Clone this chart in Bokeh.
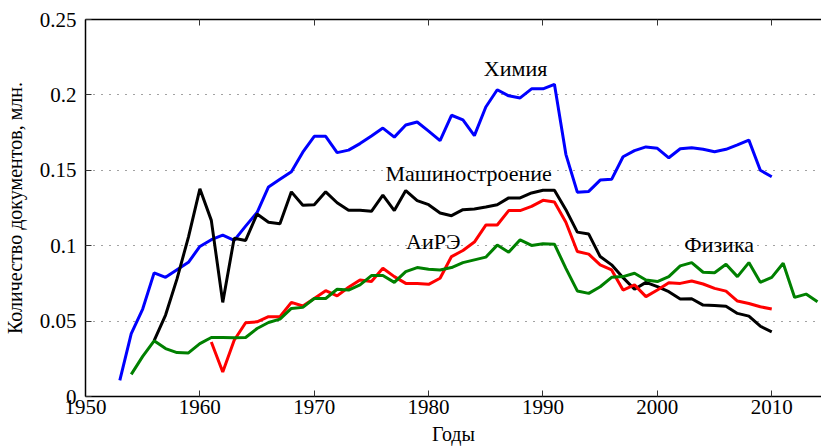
from bokeh.plotting import figure
from bokeh.models import LinearAxis, Label, FixedTicker, CustomJSTickFormatter, Range1d
from bokeh.embed import file_html
from bokeh.resources import INLINE

chem_years = list(range(1953, 2011))
chem = [0.0107, 0.0417, 0.058, 0.082, 0.079, 0.084, 0.089, 0.0995, 0.104, 0.107,
        0.1035, 0.113, 0.122, 0.139, 0.144, 0.149, 0.162, 0.1725, 0.1725, 0.1617,
        0.1634, 0.1677, 0.1728, 0.178, 0.172, 0.180, 0.182, 0.176, 0.1697, 0.1865,
        0.1834, 0.173, 0.192, 0.2034, 0.1994, 0.198, 0.204, 0.204, 0.207, 0.1606,
        0.1355, 0.136, 0.1435, 0.144, 0.159, 0.163, 0.1655, 0.1646, 0.1583, 0.1643,
        0.165, 0.1639, 0.1623, 0.1639, 0.1668, 0.170, 0.150, 0.1457]

mech_years = list(range(1956, 2011))
mech = [0.037, 0.054, 0.078, 0.1057, 0.1377, 0.1168, 0.0624, 0.105, 0.1035, 0.121,
        0.1155, 0.1146, 0.1357, 0.1268, 0.1272, 0.1357, 0.1285, 0.1235, 0.1235, 0.1228,
        0.1335, 0.1233, 0.1366, 0.1299, 0.1272, 0.1217, 0.1199, 0.1239, 0.1244, 0.1257,
        0.1272, 0.1317, 0.1317, 0.135, 0.1368, 0.1368, 0.1239, 0.109, 0.1077, 0.0928,
        0.0873, 0.0788, 0.0711, 0.0757, 0.0728, 0.0695, 0.0646, 0.0648, 0.0606, 0.0604,
        0.0599, 0.0551, 0.0533, 0.0466, 0.0429]

are_years = list(range(1961, 2011))
are = [0.0362, 0.0162, 0.0373, 0.0489, 0.0495, 0.0529, 0.0529, 0.0624, 0.060, 0.065,
       0.0702, 0.0667, 0.0724, 0.0773, 0.0762, 0.085, 0.0795, 0.075, 0.075, 0.0744,
       0.0784, 0.0928, 0.0968, 0.1024, 0.1137, 0.1137, 0.1233, 0.1233, 0.1261, 0.1301,
       0.129, 0.1155, 0.0962, 0.0944, 0.0873, 0.0839, 0.0706, 0.074, 0.0662, 0.0706,
       0.0755, 0.075, 0.0766, 0.0746, 0.0717, 0.0699, 0.0633, 0.0617, 0.0595, 0.058]

phys_years = list(range(1954, 2015))
phys = [0.0147, 0.0266, 0.0369, 0.0318, 0.0291, 0.0289, 0.0351, 0.0391, 0.0391, 0.0389,
        0.0391, 0.0451, 0.0491, 0.0513, 0.0584, 0.0591, 0.065, 0.065, 0.0711, 0.0706,
        0.074, 0.0802, 0.0802, 0.0757, 0.0828, 0.0855, 0.0844, 0.0839, 0.0855, 0.0888,
        0.0906, 0.0924, 0.1004, 0.0957, 0.1039, 0.1002, 0.1013, 0.101, 0.085, 0.07,
        0.0684, 0.0728, 0.079, 0.0795, 0.0817, 0.0773, 0.0762, 0.0795, 0.0866, 0.0888,
        0.0824, 0.0821, 0.0877, 0.0795, 0.0888, 0.0757, 0.079, 0.0884, 0.0657, 0.0679,
        0.0628]

x_ticks = [1950, 1960, 1970, 1980, 1990, 2000, 2010]
y_ticks = [0, 0.05, 0.1, 0.15, 0.2, 0.25]

FONT = "Liberation Serif"

p = figure(width=821, height=447, output_backend="svg", toolbar_location=None,
           x_range=Range1d(1950, 2014.35), y_range=Range1d(0, 0.25),
           min_border_left=85, min_border_right=0, min_border_top=19, min_border_bottom=51)
p.outline_line_color = None
p.background_fill_color = "white"
p.border_fill_color = "white"

p.xgrid.visible = False
p.ygrid.ticker = FixedTicker(ticks=y_ticks)
p.ygrid.grid_line_color = "#444444"
p.ygrid.grid_line_dash = "1 7"
p.ygrid.grid_line_width = 1

for ax in p.xaxis:
    ax.ticker = FixedTicker(ticks=x_ticks)
    ax.axis_label = "Годы"
for ax in p.yaxis:
    ax.ticker = FixedTicker(ticks=y_ticks)
    ax.formatter = CustomJSTickFormatter(code="return String(Math.round(tick*100)/100);")
    ax.axis_label = "Количество документов, млн."

for ax in list(p.xaxis) + list(p.yaxis):
    ax.axis_line_color = "black"
    ax.axis_line_width = 1.5
    ax.major_tick_in = 6
    ax.major_tick_out = 0
    ax.major_tick_line_color = "#333333"
    ax.minor_tick_line_color = None
    ax.major_label_text_font = FONT
    ax.major_label_text_font_size = "21px"
    ax.major_label_text_color = "black"
    ax.axis_label_text_font = FONT
    ax.axis_label_text_font_size = "20px"
    ax.axis_label_text_font_style = "normal"
    ax.axis_label_text_color = "black"

p.yaxis.major_label_standoff = 9
p.yaxis.axis_label_standoff = 11
p.xaxis.major_label_standoff = 3
p.xaxis.axis_label_standoff = 6

top = LinearAxis(ticker=FixedTicker(ticks=x_ticks))
top.axis_line_color = "black"
top.axis_line_width = 1.5
top.major_tick_in = 6
top.major_tick_out = 0
top.major_tick_line_color = "#333333"
top.minor_tick_line_color = None
top.major_label_text_font_size = "0px"
top.major_label_standoff = 0
p.add_layout(top, "above")

p.line(chem_years, chem, line_color="#0000ff", line_width=3)
p.line(mech_years, mech, line_color="black", line_width=3)
p.line(are_years, are, line_color="#ff0000", line_width=3)
p.line(phys_years, phys, line_color="#008000", line_width=3)

labels = [("Химия", 1987.6, 0.2178), ("Машиностроение", 1983.5, 0.148),
          ("АиРЭ", 1980.4, 0.1026), ("Физика", 2005.4, 0.1006)]
for t, lx, ly in labels:
    p.add_layout(Label(x=lx, y=ly, text=t, text_align="center", text_baseline="middle",
                       text_font=FONT, text_font_size="22px", text_color="black"))

open("out.html", "w").write(file_html(p, INLINE))
